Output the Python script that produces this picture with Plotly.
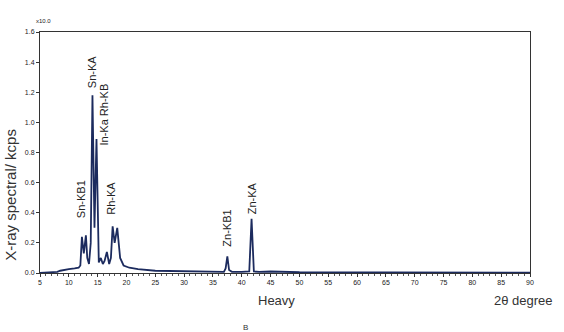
import plotly.graph_objects as go

two_theta = [5, 6, 7, 8, 8.5, 9, 10, 11, 11.7, 12.0, 12.27, 12.6, 12.96, 13.2, 13.5, 13.8, 14.1, 14.45, 14.8, 15.2, 15.55,
             15.9, 16.2, 16.6, 17.0, 17.3, 17.6, 17.95, 18.4, 18.9, 19.5, 20.5, 22, 25, 28, 30, 33, 35, 36.9, 37.2, 37.5,
             37.8, 38.3, 40, 41.3, 41.7, 42.1, 43, 45, 50, 55, 57, 60, 65, 70, 75, 80, 85, 90]
intensity = [0.0, 0.002, 0.004, 0.008, 0.015, 0.02, 0.025, 0.03, 0.035, 0.05, 0.24, 0.13, 0.25, 0.1, 0.06, 0.2, 1.18, 0.3,
             0.89, 0.07, 0.10, 0.06, 0.08, 0.14, 0.06, 0.1, 0.31, 0.2, 0.30, 0.1, 0.05, 0.035, 0.025, 0.015, 0.012, 0.01,
             0.008, 0.008, 0.008, 0.03, 0.11, 0.02, 0.008, 0.008, 0.01, 0.36, 0.01, 0.008, 0.01, 0.005, 0.006, 0.008, 0.004,
             0.004, 0.003, 0.003, 0.003, 0.003, 0.003]

peak_labels = ["Sn-KB1", "Sn-KA", "In-Ka Rh-KB", "Rh-KA", "Zn-KB1", "Zn-KA"]
peak_x = [12.0, 14.0, 16.1, 17.4, 37.4, 41.7]
peak_y = [0.34, 1.2, 0.82, 0.36, 0.15, 0.36]

x_ticks = list(range(5, 95, 5))
y_ticks = [0.0, 0.2, 0.4, 0.6, 0.8, 1.0, 1.2, 1.4, 1.6]
y_ticklabels = ["0.0", "0.2", "0.4", "0.6", "0.8", "1.0", "1.2", "1.4", "1.6"]

FONT = "Liberation Sans, Arial"

fig = go.Figure()
fig.add_trace(go.Scatter(x=two_theta, y=intensity, mode="lines",
                         line=dict(color="#1c2b5e", width=1.8), hoverinfo="skip"))

for lab, px, py in zip(peak_labels, peak_x, peak_y):
    fig.add_annotation(x=px, y=py, text=lab, textangle=-90, showarrow=False,
                       xanchor="center", yanchor="bottom", yshift=2,
                       font=dict(family=FONT, size=11, color="#222"))

fig.add_annotation(x=0, y=1, xref="paper", yref="paper", text="x10.0", showarrow=False,
                   xanchor="left", yanchor="bottom", yshift=6, xshift=-6,
                   font=dict(family=FONT, size=6, color="#222"))
fig.add_annotation(x=-0.059, y=0.325, xref="paper", yref="paper", text="X-ray spectral/ kcps",
                   textangle=-90, showarrow=False, xanchor="center", yanchor="middle",
                   font=dict(family=FONT, size=15, color="#333"))
fig.add_annotation(x=0.483, y=-0.1125, xref="paper", yref="paper", text="Heavy", showarrow=False,
                   xanchor="center", yanchor="middle",
                   font=dict(family=FONT, size=13, color="#333"))
fig.add_annotation(x=1.052, y=-0.1125, xref="paper", yref="paper", text="2θ degree", showarrow=False,
                   xanchor="right", yanchor="middle",
                   font=dict(family=FONT, size=13, color="#333"))
fig.add_annotation(x=0.42, y=-0.2, xref="paper", yref="paper", text="B", showarrow=False,
                   xanchor="center", yanchor="top",
                   font=dict(family=FONT, size=8, color="#333"))

fig.update_layout(
    width=564, height=332,
    margin=dict(l=40, r=34, t=32, b=59),
    paper_bgcolor="white", plot_bgcolor="white",
    showlegend=False,
    xaxis=dict(range=[5, 90], tickvals=x_ticks, ticks="outside", ticklen=3, tickwidth=1,
               tickcolor="#333", showline=True, linecolor="#333", linewidth=1, mirror=True,
               showgrid=False, zeroline=False,
               tickfont=dict(family=FONT, size=7, color="#222"),
               minor=dict(dtick=1, ticks="outside", ticklen=2, tickcolor="#555")),
    yaxis=dict(range=[0, 1.6], tickvals=y_ticks, ticktext=y_ticklabels, ticks="outside", ticklen=3,
               tickcolor="#333", showline=True, linecolor="#333", linewidth=1, mirror=True,
               showgrid=False, zeroline=False,
               tickfont=dict(family=FONT, size=7, color="#222")),
)

fig.write_html("out.html")
